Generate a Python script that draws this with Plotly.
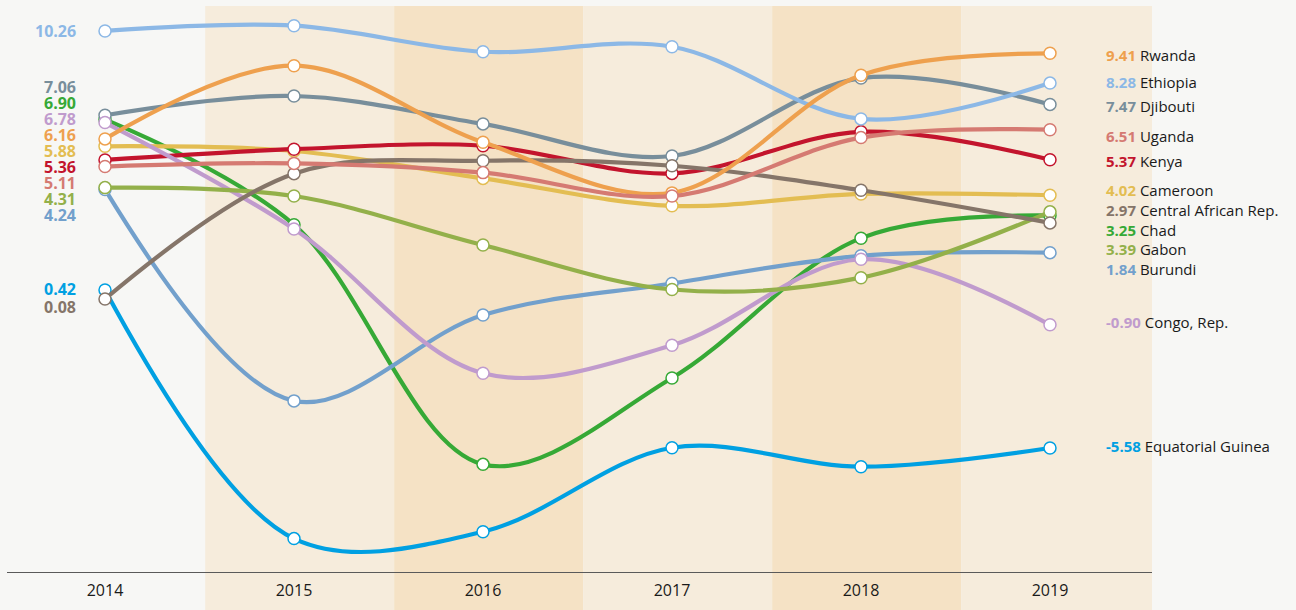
import plotly.graph_objects as go

years = [2014, 2015, 2016, 2017, 2018, 2019]
year_labels = ["2014", "2015", "2016", "2017", "2018", "2019"]

# Series values; drawing order = list order
chad = [6.90, 2.90, -6.20, -2.92, 2.39, 3.25]
burundi = [4.24, -3.79, -0.53, 0.67, 1.72, 1.84]
cameroon = [5.88, 5.70, 4.66, 3.62, 4.07, 4.02]
kenya = [5.36, 5.77, 5.90, 4.85, 6.43, 5.37]
djibouti = [7.06, 7.79, 6.73, 5.51, 8.47, 7.47]
ethiopia = [10.26, 10.46, 9.47, 9.66, 6.92, 8.28]
eq_guinea = [0.42, -9.02, -8.76, -5.57, -6.29, -5.58]
congo = [6.78, 2.74, -2.74, -1.68, 1.59, -0.90]
gabon = [4.31, 3.99, 2.13, 0.44, 0.89, 3.39]
car = [0.08, 4.84, 5.33, 5.14, 4.21, 2.97]
rwanda = [6.16, 8.94, 6.03, 4.11, 8.58, 9.41]
uganda = [5.11, 5.23, 4.88, 3.99, 6.21, 6.51]

names = ["Chad", "Burundi", "Cameroon", "Kenya", "Djibouti", "Ethiopia",
         "Equatorial Guinea", "Congo, Rep.", "Gabon", "Central African Rep.",
         "Rwanda", "Uganda"]
values = [chad, burundi, cameroon, kenya, djibouti, ethiopia,
          eq_guinea, congo, gabon, car, rwanda, uganda]
colors = ["#36a936", "#72a0cc", "#e3bd52", "#c3142d", "#788e9b", "#8cb8e6",
          "#00a0e2", "#c09bcd", "#93b04a", "#857569", "#eea04e", "#d57a72"]

# label layout (pixel centres of the dodged value labels)
left_label_px = {"Ethiopia": 31, "Djibouti": 87, "Chad": 103, "Congo, Rep.": 119,
                 "Rwanda": 135, "Cameroon": 151, "Kenya": 167, "Uganda": 183,
                 "Gabon": 199, "Burundi": 215, "Equatorial Guinea": 289,
                 "Central African Rep.": 307}
right_label_px = {"Rwanda": 55, "Ethiopia": 82, "Djibouti": 106, "Uganda": 136,
                  "Kenya": 161, "Cameroon": 190, "Central African Rep.": 210,
                  "Chad": 230, "Gabon": 249, "Burundi": 269, "Congo, Rep.": 322,
                  "Equatorial Guinea": 446}

FONT = "Open Sans, sans-serif"

W, H = 1296, 610
M_L, M_R, M_T, M_B = 7, 144, 6, 38
PX_PER_UNIT = 26.33
ZERO_PX = 301.1
Y_RANGE = [(ZERO_PX - (H - M_B)) / PX_PER_UNIT, (ZERO_PX - M_T) / PX_PER_UNIT]
X_STEP = 189.0
X_RANGE = [2014 - (105 - M_L) / X_STEP, 2014 + (W - M_R - 105) / X_STEP]


def px_to_y(p):
    return (ZERO_PX - p) / PX_PER_UNIT


def px_to_x(p):
    return 2014 + (p - 105) / X_STEP


fig = go.Figure()

for name, vals, col in zip(names, values, colors):
    fig.add_trace(go.Scatter(
        x=years, y=vals, mode="lines+markers", name=name,
        line=dict(color=col, width=4.2, shape="spline", smoothing=1),
        marker=dict(size=12, color="white", line=dict(color=col, width=1.5)),
        cliponaxis=False, hoverinfo="x+y+name", showlegend=False,
    ))

annotations = []
for name, vals, col in zip(names, values, colors):
    annotations.append(dict(
        x=px_to_x(78), y=px_to_y(left_label_px[name]), xref="x", yref="y",
        text=f"<b>{vals[0]:.2f}</b>", showarrow=False, xanchor="right",
        yanchor="middle", font=dict(size=16, color=col, family=FONT)))
    annotations.append(dict(
        x=px_to_x(1104), y=px_to_y(right_label_px[name]), xref="x", yref="y",
        text=f"<b>{vals[-1]:.2f}</b> <span style='color:#1a1a1a'>{name}</span>",
        showarrow=False, xanchor="left", yanchor="middle",
        font=dict(size=15, color=col, family=FONT)))

shapes = []
band_colors = ["#f6ecdc", "#f5e2c5", "#f6ecdc", "#f5e2c5", "#f6ecdc"]
for i, bc in enumerate(band_colors):
    x0 = years[i] + 0.53
    x1 = years[i + 1] + 0.53 if i < 4 else X_RANGE[1]
    shapes.append(dict(type="rect", xref="x", yref="paper", x0=x0, x1=x1,
                       y0=-0.08, y1=1, fillcolor=bc, line=dict(width=0),
                       layer="below"))

fig.update_layout(
    width=W, height=H,
    margin=dict(l=M_L, r=M_R, t=M_T, b=M_B),
    paper_bgcolor="#f7f7f5", plot_bgcolor="#f7f7f5",
    font=dict(family=FONT, color="#1a1a1a"),
    shapes=shapes, annotations=annotations,
    xaxis=dict(range=X_RANGE, tickvals=years, ticktext=year_labels,
               showgrid=False, zeroline=False, showline=True,
               linecolor="#5a5a5a", linewidth=1.3,
               ticks="outside", ticklen=4, tickcolor="rgba(0,0,0,0)",
               tickfont=dict(size=16, color="#1a1a1a", family=FONT)),
    yaxis=dict(range=Y_RANGE, showgrid=False, zeroline=False,
               showticklabels=False, showline=False),
)

fig.write_html("out.html",
               config={"displayModeBar": False},
               post_script="document.body.style.margin='0';"
                           "document.body.style.background='#f7f7f5';")
